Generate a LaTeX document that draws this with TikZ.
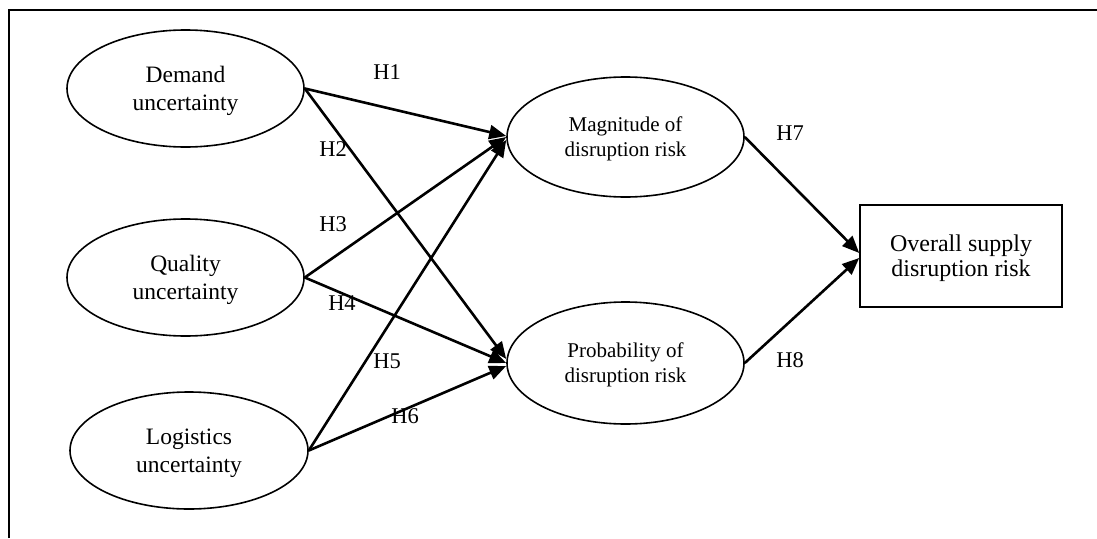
\documentclass[tikz,border=0pt]{standalone}
\usepackage{fontspec}
\setmainfont{Liberation Serif}
\usetikzlibrary{shapes.geometric,arrows.meta}
\begin{document}
\begin{tikzpicture}[x=1pt,y=-1pt,
  lat/.style={ellipse,draw,line width=1.6pt,inner sep=0pt,minimum width=237pt,minimum height=117pt,align=center,text depth=0pt,font=\fontsize{23.5}{28}\selectfont},
  mid/.style={lat,font=\fontsize{21}{25}\selectfont,minimum height=120pt},
  outbox/.style={rectangle,draw,line width=1.6pt,inner sep=0pt,minimum width=202pt,minimum height=102pt,align=center,text depth=0pt,font=\fontsize{24}{25}\selectfont},
  lbl/.style={inner sep=0pt,font=\fontsize{22.5}{27}\selectfont},
  arr/.style={line width=2.6pt,-{Triangle[length=17pt,width=14pt]}},
  frame/.style={line width=1.8pt}
]
\useasboundingbox (0,0) rectangle (1097,538);
\coordinate (fbl) at (9,538);
\coordinate (ftl) at (9,10);
\coordinate (ftr) at (1097,10);
\draw[frame] (fbl) -- (ftl) -- (ftr);

\node[lat] (dem) at (185.5,88.5) {Demand\\uncertainty};
\node[lat] (qual) at (185.5,277.5) {Quality\\uncertainty};
\node[lat,minimum width=238pt] (log) at (189,450.5) {Logistics\\uncertainty};
\node[mid] (mag) at (625.5,137) {Magnitude of\\disruption risk};
\node[mid,minimum height=122pt] (prob) at (625.5,363) {Probability of\\disruption risk};
\node[outbox] (ovr) at (961,256) {Overall supply\\disruption risk};

\draw[arr] (dem.east) -- ([yshift=1pt]mag.west);
\draw[arr] (dem.east) -- ([yshift=4pt]prob.west);
\draw[arr] (qual.east) -- (mag.west);
\draw[arr] (qual.east) -- (prob.west);
\draw[arr] (log.east) -- ([yshift=-3pt]mag.west);
\draw[arr] (log.east) -- ([yshift=-3pt]prob.west);
\draw[arr] (mag.east) -- ([yshift=3pt]ovr.west);
\draw[arr] (prob.east) -- ([yshift=-2pt]ovr.west);

\node[lbl] (h1) at (387,72) {H1};
\node[lbl] (h2) at (333,149) {H2};
\node[lbl] (h3) at (333,224) {H3};
\node[lbl] (h4) at (342,303) {H4};
\node[lbl] (h5) at (387,361) {H5};
\node[lbl] (h6) at (405,416) {H6};
\node[lbl] (h7) at (790,133) {H7};
\node[lbl] (h8) at (790,360) {H8};
\end{tikzpicture}
\end{document}
